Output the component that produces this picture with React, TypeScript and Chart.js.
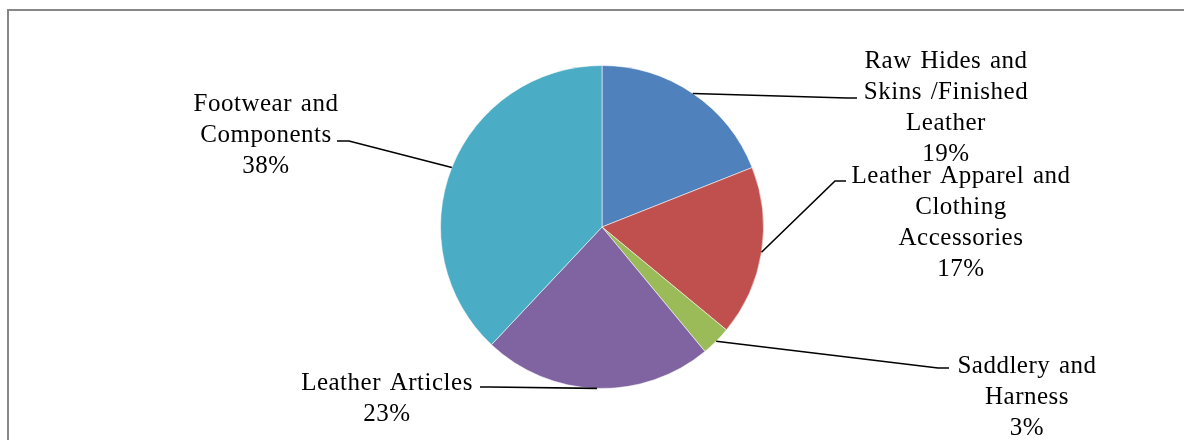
import React, { useEffect, useRef } from "react";
import { Chart, registerables } from "chart.js";

Chart.register(...registerables);

// ---- data ----
const categories = [
  "Raw Hides and Skins /Finished Leather",
  "Leather Apparel and Clothing Accessories",
  "Saddlery and Harness",
  "Leather Articles",
  "Footwear and Components",
];
const shares = [19, 17, 3, 23, 38];
const sliceColors = ["#4F81BD", "#C0504D", "#9BBB59", "#8064A2", "#4BACC6"];

// ---- layout for labels (positions, wrapping) ----
const labelLines: string[][] = [
  ["Raw Hides and", "Skins /Finished", "Leather"],
  ["Leather Apparel and", "Clothing", "Accessories"],
  ["Saddlery and", "Harness"],
  ["Leather Articles"],
  ["Footwear and", "Components"],
];
const labelLayout = [
  { cx: 946, y0: 68, bend: [847, 98], end: [857, 98] },
  { cx: 961, y0: 183, bend: [835, 181], end: [846, 181] },
  { cx: 1027, y0: 373, bend: [938, 368], end: [949, 368] },
  { cx: 387, y0: 390, bend: [490, 387], end: [480, 387] },
  { cx: 266, y0: 111, bend: [349, 141], end: [337, 141] },
];
const LINE_H = 31;

const labelPlugin = {
  id: "pieLabels",
  beforeDraw(chart: any) {
    const ctx = chart.ctx;
    ctx.save();
    ctx.fillStyle = "#ffffff";
    ctx.fillRect(0, 0, chart.width, chart.height);
    ctx.fillStyle = "#878787";
    ctx.fillRect(7, 9, 2, chart.height - 9);
    ctx.fillRect(7, 9, chart.width - 7, 2);
    ctx.restore();
  },
  afterDraw(chart: any) {
    const ctx = chart.ctx;
    const meta = chart.getDatasetMeta(0);
    const values = chart.data.datasets[0].data as number[];
    ctx.save();
    meta.data.forEach((arc: any, i: number) => {
      const p = arc.getProps(["x", "y", "startAngle", "endAngle", "outerRadius"], true);
      const mid = (p.startAngle + p.endAngle) / 2;
      const sx = p.x + Math.cos(mid) * p.outerRadius;
      const sy = p.y + Math.sin(mid) * p.outerRadius;
      const L = labelLayout[i];
      ctx.strokeStyle = "#000000";
      ctx.lineWidth = 1.6;
      ctx.beginPath();
      ctx.moveTo(sx, sy);
      ctx.lineTo(L.bend[0], L.bend[1]);
      ctx.lineTo(L.end[0], L.end[1]);
      ctx.stroke();

      const lines = [...labelLines[i], `${values[i]}%`];
      ctx.fillStyle = "#000000";
      ctx.font = '25px "Liberation Serif", "Times New Roman", serif';
      (ctx as any).letterSpacing = "0.5px";
      (ctx as any).wordSpacing = "2px";
      ctx.textAlign = "center";
      ctx.textBaseline = "alphabetic";
      lines.forEach((t, k) => {
        ctx.fillText(t, L.cx, L.y0 + k * LINE_H);
      });
    });
    ctx.restore();
  },
};

export default function App() {
  const ref = useRef<HTMLCanvasElement | null>(null);
  useEffect(() => {
    if (!ref.current) return;
    const chart = new Chart(ref.current, {
      type: "pie",
      data: {
        labels: categories,
        datasets: [
          {
            data: shares,
            backgroundColor: sliceColors,
            borderColor: "rgba(255,255,255,0.55)",
            borderWidth: 1,
          },
        ],
      },
      options: {
        animation: false,
        responsive: false,
        devicePixelRatio: 1,
        layout: { padding: { left: 440, right: 420, top: 65, bottom: 51 } },
        plugins: {
          legend: { display: false },
          tooltip: { enabled: false },
        },
      },
      plugins: [labelPlugin],
    });
    return () => chart.destroy();
  }, []);
  return (
    <div style={{ position: "fixed", left: 0, top: 0, width: 1184, height: 440, background: "#fff" }}>
      <canvas ref={ref} width={1184} height={440} style={{ width: 1184, height: 440, display: "block" }} />
    </div>
  );
}
